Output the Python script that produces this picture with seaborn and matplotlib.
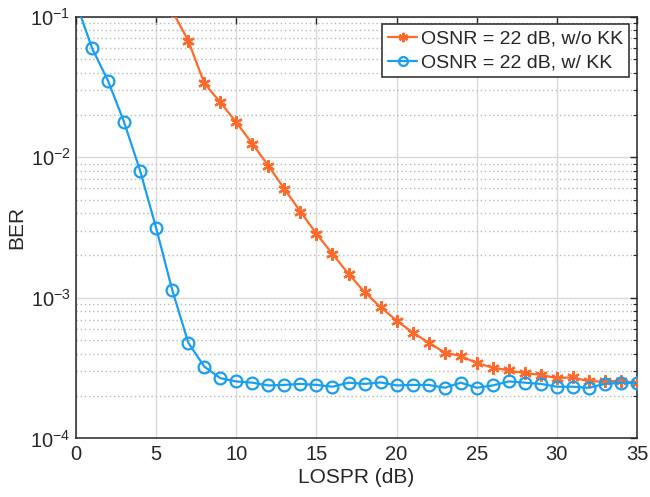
import matplotlib
matplotlib.use("Agg")
import matplotlib.pyplot as plt
import seaborn as sns
import numpy as np
import pandas as pd
from matplotlib.ticker import LogLocator, FixedLocator, NullFormatter

# ---- data ----
lospr_wo = [6, 7, 8, 9, 10, 11, 12, 13, 14, 15, 16, 17, 18, 19, 20, 21, 22, 23, 24,
            25, 26, 27, 28, 29, 30, 31, 32, 33, 34, 35]
ber_wo = [0.11, 0.0675, 0.0336, 0.0246, 0.0177, 0.01245, 0.0087, 0.00595, 0.0041, 0.00285,
          0.00205, 0.00148, 0.0011, 0.000857, 0.000689, 0.000566, 0.00048, 0.000407,
          0.000386, 0.000343, 0.000319, 0.000304, 0.000291, 0.000283, 0.000268,
          0.000272, 0.000254, 0.000254, 0.000257, 0.000247]

lospr_w = list(range(0, 36))
ber_w = [0.126, 0.0596, 0.0349, 0.01774, 0.0080, 0.00313, 0.001138, 0.00048, 0.000324,
         0.000268, 0.000254, 0.000249, 0.000238, 0.00024, 0.000244, 0.00024, 0.000233,
         0.000249, 0.000244, 0.00025, 0.000238, 0.00024, 0.00024, 0.000229, 0.000249,
         0.000229, 0.000238, 0.000254, 0.000249, 0.000244, 0.000233, 0.000233,
         0.000229, 0.000244, 0.000249, 0.000247]

labels = ["OSNR = 22 dB, w/o KK", "OSNR = 22 dB, w/ KK"]
x_ticks = [0, 5, 10, 15, 20, 25, 30, 35]
y_ticks = [1e-4, 1e-3, 1e-2, 1e-1]
y_ticklabels = ["$10^{-4}$", "$10^{-3}$", "$10^{-2}$", "$10^{-1}$"]

c_orange = "#FF6A2B"
c_blue = "#1A9EEF"

sns.set_style("white")
plt.rcParams["font.family"] = ["Liberation Sans", "DejaVu Sans"]
plt.rcParams["mathtext.fontset"] = "custom"
plt.rcParams["mathtext.rm"] = "Liberation Sans"
plt.rcParams["mathtext.it"] = "Liberation Sans"

fig = plt.figure(figsize=(6.5, 4.97), dpi=100)
ax = fig.add_axes([0.117, 0.118, 0.863, 0.8485])

df_wo = pd.DataFrame({"x": lospr_wo, "y": ber_wo})
df_w = pd.DataFrame({"x": lospr_w, "y": ber_w})

sns.lineplot(data=df_wo, x="x", y="y", ax=ax, color=c_orange, lw=1.6,
             marker=(6, 2, 0), markersize=9, markeredgewidth=1.6,
             markeredgecolor=c_orange, label=labels[0], zorder=3)
sns.lineplot(data=df_w, x="x", y="y", ax=ax, color=c_blue, lw=1.6,
             marker="o", markersize=8.5, markerfacecolor="none",
             markeredgewidth=1.6, markeredgecolor=c_blue, label=labels[1], zorder=4)

ax.set_yscale("log")
ax.set_xlim(0, 35)
ax.set_ylim(1e-4, 1e-1)
ax.set_xticks(x_ticks)
ax.set_yticks(y_ticks)
ax.set_yticklabels(y_ticklabels)
ax.yaxis.set_minor_locator(LogLocator(base=10, subs=np.arange(2, 10), numticks=20))
ax.yaxis.set_minor_formatter(NullFormatter())

ax.grid(True, which="major", axis="both", color="#d9d9d9", lw=1.0, ls="-")
ax.grid(True, which="minor", axis="y", color="#b8b8b8", lw=1.0, ls=(0, (1, 2)))
ax.set_axisbelow(True)

ax.tick_params(which="both", direction="in", top=True, right=True, labelsize=14.5,
               color="#262626")
ax.tick_params(which="major", length=5, width=1)
ax.tick_params(which="minor", length=3, width=0.8)
ax.tick_params(axis="x", pad=5)
ax.tick_params(axis="y", pad=4)
for s in ax.spines.values():
    s.set_color("#262626")
    s.set_linewidth(1.1)

ax.set_xlabel("LOSPR (dB)", fontsize=15, labelpad=3)
ax.set_ylabel("BER", fontsize=15, labelpad=3)

leg = ax.legend(loc="upper right", fontsize=14, frameon=True, fancybox=False,
                edgecolor="#262626", framealpha=1, borderpad=0.3, handlelength=1.5,
                handletextpad=0.2, labelspacing=0.3, borderaxespad=0.4,
                markerscale=0.75)
leg.get_frame().set_linewidth(1.1)

fig.savefig("out.png", dpi=100)
